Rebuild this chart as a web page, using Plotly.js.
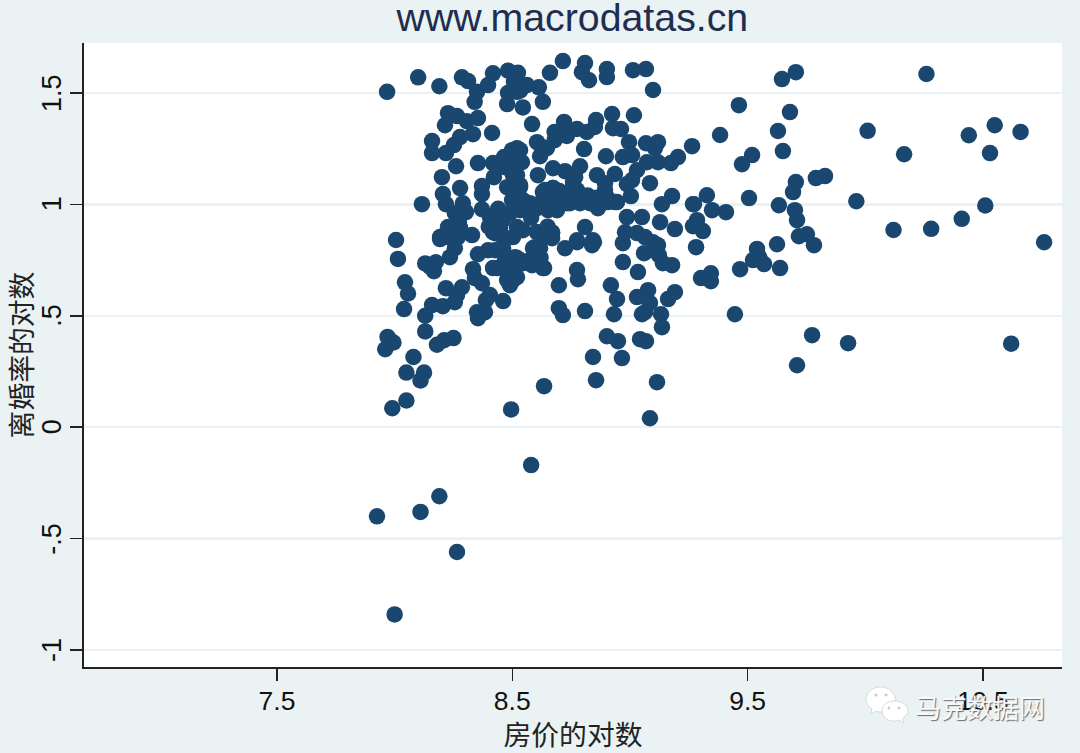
<!DOCTYPE html>
<html><head><meta charset="utf-8">
<script src="https://cdn.plot.ly/plotly-3.0.1.min.js"></script>
<style>html,body{margin:0;padding:0;background:#eaf2f3}</style></head>
<body><div id="chart" style="width:1080px;height:753px"></div>
<script>
const chartTitle = "www.macrodatas.cn";
const xLabel = "房价的对数";
const yLabel = "离婚率的对数";
const watermark = "马克数据网";
const xTickVals = [7.5, 8.5, 9.5, 10.5];
const xTickText = ["7.5", "8.5", "9.5", "10.5"];
const yTickVals = [-1, -0.5, 0, 0.5, 1, 1.5];
const yTickText = ["-1", "-.5", "0", ".5", "1", "1.5"];

const houseLog = [
7.925,8.00,8.11,8.19,8.265,8.58,8.495,7.99,8.05,8.11,8.125,8.05,8.08,7.96,7.995,7.97,8.13,8.18,8.21,8.25,
8.006,8.014,8.044,8.057,8.04,8.13,8.15,8.175,8.167,8.218,8.286,8.265,8.256,8.159,8.205,8.13,
8.35,8.384,8.354,8.388,8.405,8.461,8.333,8.341,8.371,8.354,8.397,8.427,8.418,8.461,8.52,8.49,8.478,8.503,
7.968,8.10,8.19,8.286,8.312,8.418,8.397,8.35,8.34,8.482,8.524,8.507,8.562,8.613,8.533,8.482,8.52,8.478,8.545,8.63,8.66,8.715,
8.809,8.796,8.826,8.902,8.902,9.013,9.068,9.098,9.017,8.924,8.856,8.72,8.68,8.775,8.817,8.851,8.732,8.68,8.928,8.962,8.996,8.605,8.626,8.647,8.618,8.584,
8.414,8.227,8.265,8.214,8.307,8.354,8.333,8.278,8.252,8.218,8.159,8.159,8.261,8.354,8.201,8.278,8.371,8.371,8.205,8.218,8.29,8.116,8.371,8.303,8.256,8.273,8.227,8.278,8.329,8.193,
8.418,8.465,8.499,8.533,8.52,8.541,8.49,8.469,8.427,8.422,8.503,8.609,8.673,8.724,8.788,8.758,8.86,8.936,8.894,8.775,8.478,8.533,8.52,8.63,8.673,8.703,
8.575,8.618,8.66,8.732,8.788,8.83,8.864,8.902,8.936,9.004,8.987,9.051,9.128,9.191,9.136,9.179,9.268,9.264,9.204,9.174,9.119,9.072,9.03,9.009,8.987,9.085,9.068,9.119,9.106,9.009,8.97,8.898,8.805,
9.463,9.383,9.646,9.705,9.68,9.629,9.65,9.519,9.476,9.829,9.79,9.705,9.693,9.506,9.633,9.701,9.71,9.962,9.327,9.272,9.349,9.408,9.285,9.268,9.31,9.281,
9.718,9.752,9.782,9.625,9.54,9.523,9.549,9.57,9.468,9.638,9.344,9.302,9.344,9.446,9.774,9.927,9.71,9.115,9.085,8.966,8.949,8.902,9.043,9.068,9.136,9.132,9.051,9.064,9.085,9.162,9.191,9.077,9.03,8.945,8.932,8.919,9.034,8.97,
8.97,8.979,9.03,9.064,9.098,9.119,9.06,9.106,9.123,9.14,9.179,8.843,8.856,8.635,8.809,8.698,8.698,8.715,8.775,8.779,8.809,8.724,8.775,8.843,8.839,8.669,8.669,8.605,8.618,8.588,8.635,8.584,8.533,8.512,8.469,
8.256,8.235,8.193,8.227,8.278,8.227,8.269,8.461,8.513,8.503,8.52,8.533,8.545,8.533,8.499,8.439,8.49,8.448,8.52,8.461,8.503,8.545,8.605,8.669,8.639,8.673,8.626,8.652,8.69,8.605,8.584,8.66,8.703,8.745,8.788,8.83,8.864,8.945,8.906,8.894,8.758,8.767,
8.461,8.52,8.435,8.499,8.575,8.596,8.63,8.545,8.775,8.847,8.418,8.405,8.70,8.74,8.40,8.43,8.46,8.82,8.86,8.44,8.65,8.63,8.45,8.62,8.44,8.58,
10.01,10.165,10.12,10.26,10.28,10.41,10.44,10.51,10.53,10.55,10.66,10.76,10.62
];
const divorceLog = [
-0.40,-0.84,-0.38,-0.31,-0.56,-0.17,0.08,0.085,0.12,0.21,0.245,0.245,0.315,0.35,0.38,0.405,0.43,0.37,0.39,0.40,
0.84,0.755,0.65,0.60,0.53,0.735,0.72,0.74,0.70,0.624,0.628,0.593,0.561,0.548,0.543,0.50,
0.516,0.516,0.489,0.57,0.593,0.566,0.709,0.669,0.646,0.776,0.794,0.794,0.714,0.714,0.673,0.637,0.66,0.66,
1.505,1.57,1.53,1.57,1.553,1.588,1.535,1.505,1.46,1.60,1.59,1.55,1.535,1.525,1.51,1.50,1.505,1.45,1.435,1.46,1.59,1.643,
1.634,1.593,1.557,1.607,1.571,1.602,1.607,1.513,1.40,1.405,1.378,1.37,1.325,1.338,1.325,1.347,1.307,1.288,1.342,1.338,1.279,1.279,1.257,1.252,1.216,1.36,
1.32,1.409,1.396,1.355,1.373,1.387,1.315,1.302,1.266,1.23,1.284,1.23,1.171,1.185,1.122,1.073,1.082,1.046,1.046,1.001,1.005,1.001,0.978,0.965,0.96,0.92,0.898,0.893,0.862,0.853,
1.185,1.212,1.243,1.243,1.252,1.189,1.189,1.167,1.18,1.122,1.14,1.131,1.162,1.149,1.171,1.10,1.131,1.136,1.095,1.064,1.077,1.077,1.032,1.055,1.073,1.05,
1.005,1.005,1.005,1.005,1.005,1.005,0.987,1.032,1.01,1.037,0.943,0.943,0.92,0.889,1.001,1.037,1.001,1.261,1.212,1.185,1.189,1.189,1.153,1.109,1.09,1.095,1.274,1.279,1.252,1.221,1.212,1.216,1.248,
1.445,1.311,1.562,1.593,1.414,1.329,1.239,1.221,1.18,1.127,1.118,1.10,1.055,1.028,0.996,0.974,0.929,1.014,1.041,1.001,0.974,0.965,0.929,0.902,0.88,0.808,
0.857,0.866,0.817,0.821,0.80,0.75,0.763,0.732,0.709,0.714,0.691,0.669,0.655,0.507,0.413,0.377,0.278,0.202,0.04,0.31,0.386,0.408,0.395,0.386,0.449,0.507,0.507,0.516,0.557,0.575,0.606,0.615,0.584,0.575,0.507,0.637,0.696,0.741,
0.826,0.875,0.871,0.853,0.83,0.817,0.781,0.794,0.772,0.736,0.727,0.315,0.211,0.184,0.521,0.637,0.534,0.503,0.705,0.664,0.898,0.803,0.83,0.839,0.817,0.875,0.848,0.875,0.803,0.803,0.714,0.727,0.75,0.763,0.75,
0.803,0.763,0.844,0.893,0.893,0.853,0.853,1.198,1.167,1.131,1.131,1.086,1.019,0.974,1.019,0.951,0.96,0.893,0.898,0.853,0.853,0.884,0.875,0.871,1.064,1.073,1.01,0.974,0.974,0.983,0.996,1.019,1.019,1.005,1.01,1.019,0.983,1.01,1.01,1.064,1.077,1.122,
0.803,0.759,0.714,0.705,0.75,0.808,0.714,0.736,0.839,0.83,0.875,0.943,1.06,1.05,0.90,0.87,0.93,1.04,1.03,0.98,0.90,0.85,0.80,0.76,0.88,0.94,
1.33,1.225,0.885,1.585,0.89,0.935,1.31,0.995,1.23,1.355,1.325,0.83,0.375
];

const wechatIcon = "data:image/svg+xml;utf8," + encodeURIComponent(
'<svg xmlns="http://www.w3.org/2000/svg" width="44" height="40" viewBox="0 0 44 40">'+
'<path d="M16 1C8 1 1 6 1 13c0 4 2 7 6 10l-1 5 5-3c2 1 4 1 6 1 1-7 8-11 14-11C30 7 24 1 16 1z" fill="#fff" stroke="#bbb" stroke-width=".5"/>'+
'<path d="M29 15c-7 0-12 4-12 10s5 10 12 10c2 0 3 0 5-1l5 3-1-5c3-2 5-4 5-7 0-6-6-10-14-10z" fill="#fff" stroke="#bbb" stroke-width=".5"/>'+
'<circle cx="11" cy="9" r="1.6" fill="#ccc"/><circle cx="21" cy="9" r="1.6" fill="#ccc"/>'+
'<circle cx="24" cy="22" r="1.4" fill="#ccc"/><circle cx="34" cy="22" r="1.4" fill="#ccc"/></svg>');

const yTickAnnotations = yTickVals.map((v, i) => ({
  text: yTickText[i], xref: "paper", yref: "y", x: (52-84)/978, y: v,
  xanchor: "center", yanchor: "middle", textangle: -90, showarrow: false,
  font: {family: "Liberation Sans, Arial", size: 27, color: "#111"}
}));

Plotly.newPlot("chart", [{
  type: "scatter", mode: "markers", x: houseLog, y: divorceLog,
  marker: {color: "#1a476f", size: 16.5, line: {width: 0}}, hoverinfo: "skip"
}], {
  width: 1080, height: 753,
  paper_bgcolor: "#eaf2f3", plot_bgcolor: "#ffffff",
  margin: {l: 84, r: 18, t: 43, b: 86, pad: 0},
  showlegend: false,
  title: {text: chartTitle, font: {family: "Liberation Sans, Arial", size: 39.3, color: "#1e2d50"},
          x: 0.53, xanchor: "center", y: 0.977, yanchor: "middle", automargin: false},
  xaxis: {range: [6.68, 10.836], tickmode: "array", tickvals: xTickVals, ticktext: xTickText,
    showgrid: false, zeroline: false, showline: true, linecolor: "#222", linewidth: 2,
    ticks: "outside", ticklen: 12, tickwidth: 1.5, tickcolor: "#222", ticklabelstandoff: -3,
    tickfont: {family: "Liberation Sans, Arial", size: 26.5, color: "#111"},
    title: {text: xLabel, standoff: 3, font: {family: "Noto Sans CJK SC", size: 27.8, color: "#222"}}},
  yaxis: {range: [-1.076, 1.724], tickmode: "array", tickvals: yTickVals, showticklabels: false,
    showgrid: true, gridcolor: "#eaf2f3", gridwidth: 2.5, zeroline: false,
    showline: true, linecolor: "#222", linewidth: 2,
    ticks: "outside", ticklen: 12, tickwidth: 1.5, tickcolor: "#222",
    title: {text: yLabel, standoff: 40, font: {family: "Noto Sans CJK SC", size: 27.8, color: "#222"}}},
  images: [{source: wechatIcon, xref: "paper", yref: "paper", xanchor: "left", yanchor: "top",
            x: (865-84)/978, y: (667-686)/624, sizex: 44/978, sizey: 40/624, sizing: "stretch", layer: "above"}],
  annotations: yTickAnnotations.concat([{text: watermark, xref: "paper", yref: "paper", x: (913-84)/978, y: (667-706)/624,
    xanchor: "left", yanchor: "middle", showarrow: false,
    font: {family: "Noto Sans CJK SC", size: 26, color: "rgba(255,255,255,0.95)",
           shadow: "1px 1px 1px #666"}}])
}, {displayModeBar: false, staticPlot: true});
</script></body></html>
